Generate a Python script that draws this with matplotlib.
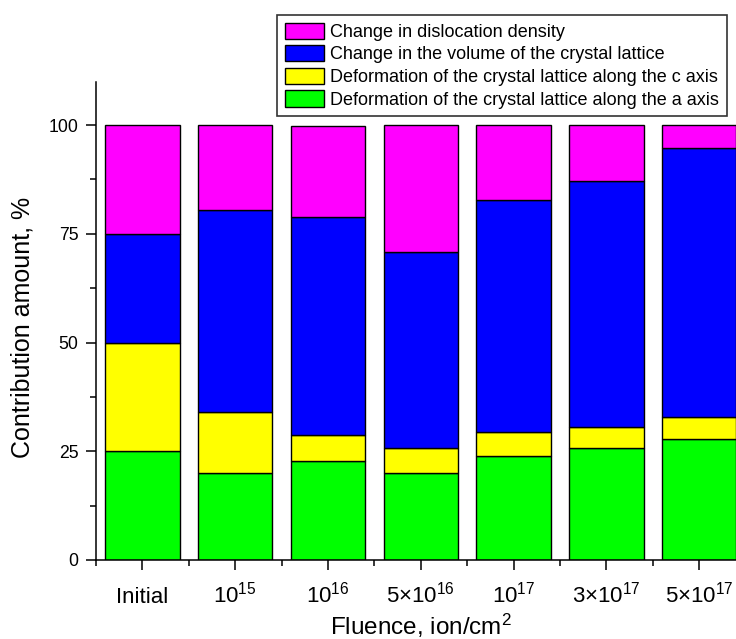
import matplotlib
matplotlib.use("Agg")
import matplotlib.pyplot as plt
from matplotlib.ticker import FixedLocator, MultipleLocator
import numpy as np

plt.rcParams['font.family'] = ['Liberation Sans', 'DejaVu Sans']
plt.rcParams['mathtext.fontset'] = 'custom'
plt.rcParams['mathtext.rm'] = 'Liberation Sans'
plt.rcParams['mathtext.it'] = 'Liberation Sans:italic'
plt.rcParams['mathtext.bf'] = 'Liberation Sans:bold'

# Fluence levels
categories = ['Initial', r'$10^{15}$', r'$10^{16}$', r'$5{\times}10^{16}$',
              r'$10^{17}$', r'$3{\times}10^{17}$', r'$5{\times}10^{17}$']

# Contributions, % (stacked bottom to top)
a_axis = [25, 20, 22.8, 20, 24, 25.7, 27.8]
c_axis = [25, 14, 6, 5.7, 5.4, 4.9, 5.1]
volume = [25, 46.5, 50.1, 45, 53.4, 56.6, 61.9]
dislocation = [25, 19.5, 20.9, 29.3, 17.2, 12.8, 5.2]

series = [
    (a_axis, '#00FF00', 'Deformation of the crystal lattice along the a axis'),
    (c_axis, '#FFFF00', 'Deformation of the crystal lattice along the c axis'),
    (volume, '#0000FF', 'Change in the volume of the crystal lattice'),
    (dislocation, '#FF00FF', 'Change in dislocation density'),
]

W, H = 736, 639
fig = plt.figure(figsize=(W / 100, H / 100), dpi=100)
ax = fig.add_axes([96 / W, 1 - 560 / H, 649.6 / W, 478.5 / H])

x = np.arange(len(categories))
bottom = np.zeros(len(categories))
handles = []
for vals, color, label in series:
    vals = np.asarray(vals, dtype=float)
    h = ax.bar(x, vals, 0.8, bottom=bottom, color=color, edgecolor='black',
               linewidth=1.0, label=label, zorder=2)
    handles.append(h)
    bottom += vals

ax.set_xlim(-0.5, 6.5)
ax.set_ylim(0, 110)

for s in ('top', 'right'):
    ax.spines[s].set_visible(False)
for s in ('left', 'bottom'):
    ax.spines[s].set_linewidth(1.1)

ax.yaxis.set_major_locator(FixedLocator([0, 25, 50, 75, 100]))
ax.yaxis.set_minor_locator(MultipleLocator(12.5))
ax.xaxis.set_major_locator(FixedLocator(x))
ax.xaxis.set_minor_locator(FixedLocator(np.arange(-0.5, 7, 1.0)))
ax.set_xticklabels(categories)
ax.tick_params(axis='both', which='major', direction='out', length=7.2, width=1.1)
ax.tick_params(axis='both', which='minor', direction='out', length=4.0, width=1.1)
ax.tick_params(axis='y', which='major', labelsize=12.7, pad=5.5)
ax.tick_params(axis='x', which='major', labelsize=16, pad=23.5)
for lab in ax.get_xticklabels():
    lab.set_va('baseline')

ax.set_ylabel('Contribution amount, %', fontsize=18)
ax.yaxis.set_label_coords(-0.094, 0.485)
ax.set_xlabel(r'Fluence, ion/cm$^{2}$', fontsize=17.5)
ax.xaxis.label.set_va('baseline')
ax.xaxis.set_label_coords(0.5, -0.1567)

leg = ax.legend(handles[::-1], [s[2] for s in series][::-1],
                loc='upper left', bbox_to_anchor=(277 / W, 1 - 15 / H),
                bbox_transform=fig.transFigure, borderaxespad=0,
                fontsize=13, handlelength=2.17, handleheight=1.0,
                labelspacing=0.24, handletextpad=0.35, borderpad=0.42,
                fancybox=False, frameon=True, framealpha=1)
leg.get_frame().set_edgecolor('#333333')
leg.get_frame().set_linewidth(1.2)

fig.savefig('out.png', dpi=100)
